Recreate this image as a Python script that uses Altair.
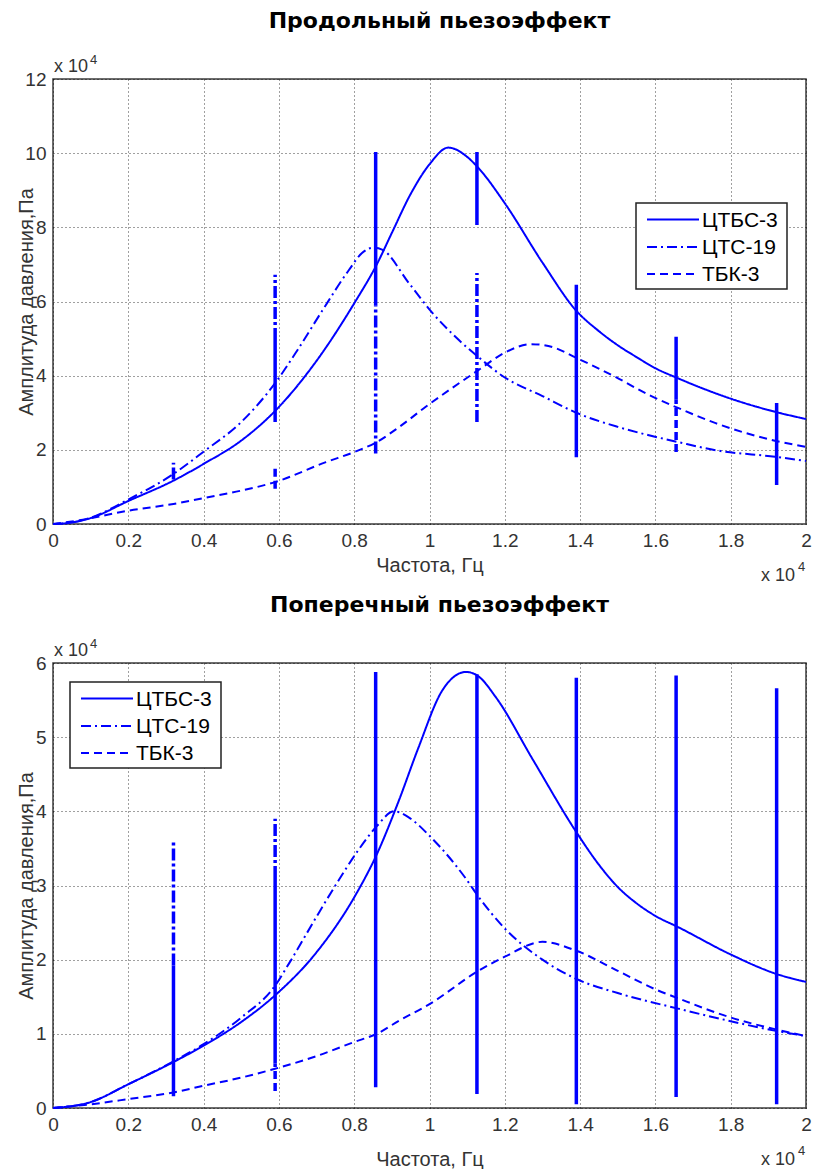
import altair as alt
import pandas as pd

FONT = "Liberation Sans"
BLUE = "#0000ff"
SERIES = ["ЦТБС-3", "ЦТС-19", "ТБК-3"]
DASHES = [[1, 0], [10, 4, 2, 4], [8, 5]]
BAR_DASHES = {"ЦТБС-3": [1, 0], "ЦТС-19": [12, 3, 3, 3], "ТБК-3": [8, 4]}

X_TICKS = [0, 0.2, 0.4, 0.6, 0.8, 1.0, 1.2, 1.4, 1.6, 1.8, 2.0]

# ---------------- Продольный пьезоэффект (top) ----------------
top_title = "Продольный пьезоэффект"
top_y_ticks = [0, 2, 4, 6, 8, 10, 12]

top_ctbs_f = [0, 0.05, 0.1, 0.2, 0.32, 0.4, 0.5, 0.59, 0.7, 0.8, 0.86, 0.9, 0.95, 1.0, 1.05, 1.1, 1.13, 1.2, 1.3, 1.39, 1.45, 1.5, 1.55, 1.6, 1.66, 1.7, 1.8, 1.92, 2.0]
top_ctbs_a = [0, 0.04, 0.16, 0.62, 1.17, 1.62, 2.25, 3.05, 4.4, 5.95, 7.0, 7.85, 8.9, 9.7, 10.15, 9.9, 9.6, 8.65, 7.05, 5.75, 5.2, 4.82, 4.5, 4.2, 3.93, 3.76, 3.38, 3.02, 2.83]

top_cts_f = [0, 0.05, 0.1, 0.2, 0.32, 0.4, 0.5, 0.59, 0.65, 0.715, 0.786, 0.82, 0.85, 0.874, 0.945, 1.007, 1.078, 1.13, 1.2, 1.3, 1.39, 1.5, 1.58, 1.66, 1.76, 1.92, 2.0]
top_cts_a = [0, 0.04, 0.17, 0.66, 1.35, 1.95, 2.75, 3.8, 4.7, 5.75, 6.85, 7.3, 7.45, 7.4, 6.5, 5.7, 4.96, 4.5, 3.95, 3.45, 3.0, 2.62, 2.4, 2.21, 1.99, 1.81, 1.70]

top_tbk_f = [0, 0.07, 0.2, 0.32, 0.4, 0.5, 0.59, 0.725, 0.8, 0.86, 0.92, 0.99, 1.13, 1.2, 1.27, 1.33, 1.39, 1.495, 1.583, 1.66, 1.76, 1.92, 2.0]
top_tbk_a = [0, 0.1, 0.36, 0.54, 0.7, 0.9, 1.13, 1.67, 1.94, 2.21, 2.62, 3.16, 4.15, 4.62, 4.85, 4.76, 4.48, 3.96, 3.48, 3.13, 2.72, 2.24, 2.08]

# vertical lines: frequency, lower, upper, series style
top_bar_f = [0.32, 0.59, 0.59, 0.59, 0.857, 0.857, 1.126, 1.126, 1.39, 1.655, 1.655, 1.922]
top_bar_lo = [1.2, 4.96, 2.75, 0.95, 5.9, 1.9, 8.06, 2.75, 1.8, 3.35, 1.94, 1.05]
top_bar_hi = [1.65, 6.72, 4.96, 1.6, 10.03, 5.9, 10.03, 6.77, 6.45, 5.05, 3.35, 3.26]
top_bar_s = ["ЦТС-19", "ЦТС-19", "ЦТБС-3", "ТБК-3", "ЦТБС-3", "ЦТС-19", "ЦТБС-3", "ЦТС-19", "ЦТБС-3", "ЦТБС-3", "ТБК-3", "ЦТБС-3"]

# ---------------- Поперечный пьезоэффект (bottom) ----------------
bot_title = "Поперечный пьезоэффект"
bot_y_ticks = [0, 1, 2, 3, 4, 5, 6]

bot_ctbs_f = [0, 0.1, 0.2, 0.32, 0.4, 0.5, 0.59, 0.7, 0.8, 0.86, 0.919, 0.97, 1.034, 1.097, 1.13, 1.176, 1.273, 1.39, 1.45, 1.5, 1.55, 1.6, 1.66, 1.8, 1.92, 2.0]
bot_ctbs_a = [0, 0.08, 0.32, 0.62, 0.84, 1.16, 1.52, 2.1, 2.84, 3.42, 4.15, 4.85, 5.63, 5.88, 5.82, 5.54, 4.71, 3.72, 3.28, 2.98, 2.76, 2.59, 2.44, 2.07, 1.81, 1.70]

bot_cts_f = [0, 0.1, 0.2, 0.32, 0.4, 0.5, 0.59, 0.627, 0.7, 0.75, 0.81, 0.86, 0.906, 0.95, 1.0, 1.097, 1.13, 1.2, 1.3, 1.39, 1.5, 1.66, 1.8, 1.92, 2.0]
bot_cts_a = [0, 0.08, 0.32, 0.63, 0.86, 1.22, 1.65, 1.95, 2.58, 3.0, 3.47, 3.8, 4.0, 3.9, 3.67, 3.09, 2.85, 2.42, 2.0, 1.74, 1.55, 1.34, 1.17, 1.04, 0.97]

bot_tbk_f = [0, 0.1, 0.2, 0.32, 0.4, 0.5, 0.59, 0.7, 0.8, 0.86, 0.92, 1.0, 1.13, 1.2, 1.3, 1.39, 1.5, 1.6, 1.66, 1.8, 1.92, 2.0]
bot_tbk_a = [0, 0.05, 0.12, 0.21, 0.3, 0.41, 0.53, 0.7, 0.89, 1.0, 1.18, 1.4, 1.85, 2.04, 2.24, 2.12, 1.85, 1.6, 1.48, 1.22, 1.06, 0.97]

bot_bar_f = [0.32, 0.32, 0.59, 0.59, 0.59, 0.857, 1.126, 1.39, 1.655, 1.922]
bot_bar_lo = [1.92, 0.16, 3.1, 0.6, 0.23, 0.28, 0.19, 0.05, 0.15, 0.05]
bot_bar_hi = [3.6, 1.92, 3.9, 3.1, 0.6, 5.88, 5.85, 5.8, 5.83, 5.66]
bot_bar_s = ["ЦТС-19", "ЦТБС-3", "ЦТС-19", "ЦТБС-3", "ТБК-3", "ЦТБС-3", "ЦТБС-3", "ЦТБС-3", "ЦТБС-3", "ЦТБС-3"]

W, H = 753, 445
LEG_W, LEG_H = 151, 86
LEG_ROWS = [16.5, 44, 71]


def curves_df(parts):
    rows = []
    for name, fs, amps in parts:
        for i, (f, a) in enumerate(zip(fs, amps)):
            rows.append({"f": f, "amp": a, "series": name, "i": i})
    return pd.DataFrame(rows)


def bars_df(fs, lo, hi, s):
    return pd.DataFrame({"f": fs, "lo": lo, "hi": hi, "series": s})


def legend_layers(lx, ly):
    one = pd.DataFrame({"k": [0]})
    out = [alt.Chart(one).mark_rect(fill="white", stroke="#222", strokeWidth=1.5).encode(
        x=alt.value(lx), x2=alt.value(lx + LEG_W), y=alt.value(ly), y2=alt.value(ly + LEG_H))]
    for s, dash, dy in zip(SERIES, DASHES, LEG_ROWS):
        d = pd.DataFrame({"series": [s]})
        out.append(alt.Chart(d).mark_rule(color=BLUE, strokeWidth=2, strokeDash=dash).encode(
            x=alt.value(lx + 11), x2=alt.value(lx + 63), y=alt.value(ly + dy)))
        out.append(alt.Chart(d).mark_text(font=FONT, fontSize=21, align="left", baseline="middle",
                                          color="black").encode(
            x=alt.value(lx + 66), y=alt.value(ly + dy + 1), text="series:N"))
    return out


def panel(title, curves, bars, ymax, yticks, leg_x, leg_y, xtitle_y, title_offset):
    xs = alt.Scale(domain=[0, 2], nice=False, zero=False)
    ys = alt.Scale(domain=[0, ymax], nice=False, zero=False)
    x_axis = alt.Axis(values=X_TICKS, labelExpr="format(datum.value, '~g')",
                      title="Частота, Гц", titleY=xtitle_y, grid=True,
                      labelFlush=False, labelOverlap=False)
    y_axis = alt.Axis(values=yticks, labelExpr="format(datum.value, '~g')",
                      title="Амплитуда давления,Па", titleX=-21, titleBaseline="alphabetic",
                      grid=True, labelFlush=False, labelOverlap=False)
    lines = alt.Chart(curves).mark_line(color=BLUE, strokeWidth=2, interpolate="monotone").encode(
        x=alt.X("f:Q", scale=xs, axis=x_axis),
        y=alt.Y("amp:Q", scale=ys, axis=y_axis),
        strokeDash=alt.StrokeDash("series:N", scale=alt.Scale(domain=SERIES, range=DASHES), legend=None),
        detail="series:N",
        order="i:Q",
    )
    layers = [lines]
    for s in SERIES:
        layers.append(
            alt.Chart(bars).transform_filter(alt.datum.series == s)
            .mark_rule(color=BLUE, strokeWidth=3.5, strokeDash=BAR_DASHES[s])
            .encode(x=alt.X("f:Q", scale=xs), y=alt.Y("lo:Q", scale=ys), y2="hi:Q")
        )
    layers += legend_layers(leg_x, leg_y)
    lbl = pd.DataFrame({"t": ["x 10"]})
    sup = pd.DataFrame({"t": ["4"]})
    layers.append(alt.Chart(lbl).mark_text(font=FONT, fontSize=18, align="left", baseline="alphabetic", color="#333")
                  .encode(x=alt.value(1), y=alt.value(-7), text="t:N"))
    layers.append(alt.Chart(sup).mark_text(font=FONT, fontSize=13, align="left", baseline="alphabetic", color="#333")
                  .encode(x=alt.value(37), y=alt.value(-15), text="t:N"))
    layers.append(alt.Chart(lbl).mark_text(font=FONT, fontSize=18, align="left", baseline="alphabetic", color="#333")
                  .encode(x=alt.value(708), y=alt.value(H + 57), text="t:N"))
    layers.append(alt.Chart(sup).mark_text(font=FONT, fontSize=13, align="left", baseline="alphabetic", color="#333")
                  .encode(x=alt.value(745), y=alt.value(H + 47), text="t:N"))
    return alt.layer(*layers).properties(
        width=W, height=H,
        title=alt.TitleParams(title, font="DejaVu Sans", fontSize=22, fontWeight="bold", color="black",
                              anchor="middle", frame="group", dx=10, offset=title_offset,
                              baseline="alphabetic"),
    )


top = panel(top_title,
            curves_df([("ЦТБС-3", top_ctbs_f, top_ctbs_a), ("ЦТС-19", top_cts_f, top_cts_a), ("ТБК-3", top_tbk_f, top_tbk_a)]),
            bars_df(top_bar_f, top_bar_lo, top_bar_hi, top_bar_s),
            12, top_y_ticks, 583, 124, 31, 4)
bottom = panel(bot_title,
               curves_df([("ЦТБС-3", bot_ctbs_f, bot_ctbs_a), ("ЦТС-19", bot_cts_f, bot_cts_a), ("ТБК-3", bot_tbk_f, bot_tbk_a)]),
               bars_df(bot_bar_f, bot_bar_lo, bot_bar_hi, bot_bar_s),
               6, bot_y_ticks, 17, 19, 41, 4)

chart = alt.vconcat(top, bottom, spacing=7).resolve_scale(strokeDash="independent").properties(
    padding={"left": 15, "top": 9, "right": 0, "bottom": 0}
).configure_view(stroke="#3c3c3c", strokeWidth=1.5).configure_axis(
    labelFont=FONT, labelFontSize=19, labelColor="#333", titleFont=FONT, titleFontSize=20,
    titleFontWeight="normal", titleColor="#333", tickSize=0, labelPadding=7, domain=False,
    gridColor="black", gridDash=[1, 3], gridOpacity=0.75, gridWidth=1,
)

chart.save("out.html", embed_options={"renderer": "svg", "actions": False})
